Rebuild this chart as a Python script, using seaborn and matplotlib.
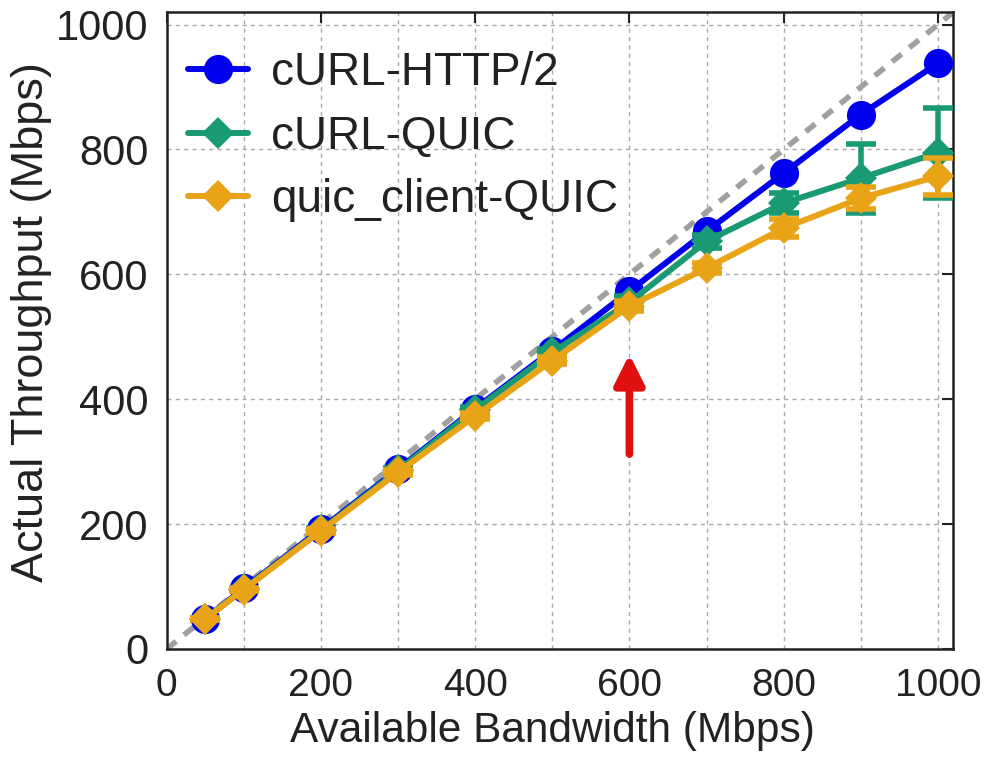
import matplotlib
matplotlib.use("Agg")
import matplotlib.pyplot as plt
import seaborn as sns
import pandas as pd
import numpy as np

bandwidth = [50, 100, 200, 300, 400, 500, 600, 700, 800, 900, 1000]
http2 = [48, 97, 192, 288, 385, 478, 573, 669, 762, 856, 938]
curl_quic = [48, 96, 190, 286, 383, 475, 555, 653, 714, 754, 795]
curl_quic_err = [2, 2, 3, 4, 5, 6, 10, 10, 16, 55, 72]
quic_client = [48, 95, 189, 283, 373, 462, 549, 610, 674, 722, 757]
quic_client_err = [2, 2, 3, 4, 5, 6, 8, 8, 14, 18, 30]

series_names = ["cURL-HTTP/2", "cURL-QUIC", "quic_client-QUIC"]
colors = ["#0000EE", "#1A9A74", "#E8A317"]
markers = ["o", "D", "D"]

sns.set_theme(style="white")
plt.rcParams['font.family'] = ['Liberation Sans', 'DejaVu Sans']

fig = plt.figure(figsize=(9.92, 7.59), dpi=100)
ax = fig.add_axes([0.168, 0.145, 0.793, 0.839])

# diagonal reference
ax.plot([0, 1020], [0, 1020], ls=(0, (2.2, 1.8)), color="#A0A0A0", lw=4, zorder=1)

df = pd.DataFrame({
    "bw": bandwidth * 3,
    "tp": http2 + curl_quic + quic_client,
    "series": [series_names[0]] * len(bandwidth) + [series_names[1]] * len(bandwidth) + [series_names[2]] * len(bandwidth),
})

errs = [None, curl_quic_err, quic_client_err]
vals = [http2, curl_quic, quic_client]
sizes = [21, 16, 16]
for i, name in enumerate(series_names):
    sub = df[df.series == name]
    sns.lineplot(data=sub, x="bw", y="tp", ax=ax, color=colors[i], lw=4.3,
                 marker=markers[i], markersize=sizes[i], markeredgewidth=0,
                 label=name, zorder=3 + i)
    if errs[i] is not None:
        ax.errorbar(bandwidth, vals[i], yerr=errs[i], fmt="none", ecolor=colors[i],
                    elinewidth=4, capsize=11, capthick=4, zorder=3 + i)

ax.annotate("", xy=(600, 472), xytext=(600, 312),
            arrowprops=dict(arrowstyle="-|>,head_width=0.45,head_length=0.9",
                            mutation_scale=20, color="#E01010", lw=5.5,
                            shrinkA=0, shrinkB=0), zorder=10)

ax.set_xlim(0, 1020)
ax.set_ylim(0, 1020)
ax.set_xticks([0, 200, 400, 600, 800, 1000])
ax.set_xticks([100, 300, 500, 700, 900], minor=True)
ax.set_yticks([0, 200, 400, 600, 800, 1000])
ax.grid(True, which="both", axis="x", ls=(0, (3, 3)), color="#AAAAAA", lw=1)
ax.grid(True, which="major", axis="y", ls=(0, (3, 3)), color="#AAAAAA", lw=1)
ax.tick_params(axis="both", which="both", direction="in", top=True, right=True,
               length=8, width=1.5, colors="#222222")
ax.tick_params(axis="x", which="major", pad=14, labelsize=28)
ax.tick_params(axis="y", which="major", pad=13, labelsize=30)
ax.tick_params(axis="both", which="minor", length=0)
for s in ax.spines.values():
    s.set_color("#222222")
    s.set_linewidth(1.8)

ax.set_xlabel("Available Bandwidth (Mbps)", fontsize=30.5, color="#222222")
ax.set_ylabel("Actual Throughput (Mbps)", fontsize=32.5, color="#222222")
ax.xaxis.set_label_coords(0.491, -0.097)
ax.yaxis.set_label_coords(-0.146, 0.513)

leg = ax.legend(loc="upper left", frameon=False, fontsize=33, handlelength=1.3,
                borderaxespad=0.0, borderpad=0.4, labelspacing=0.42, handletextpad=0.5,
                bbox_to_anchor=(0.004, 0.967))
for t in leg.get_texts():
    t.set_color("#222222")

fig.savefig("out.png", dpi=100)
